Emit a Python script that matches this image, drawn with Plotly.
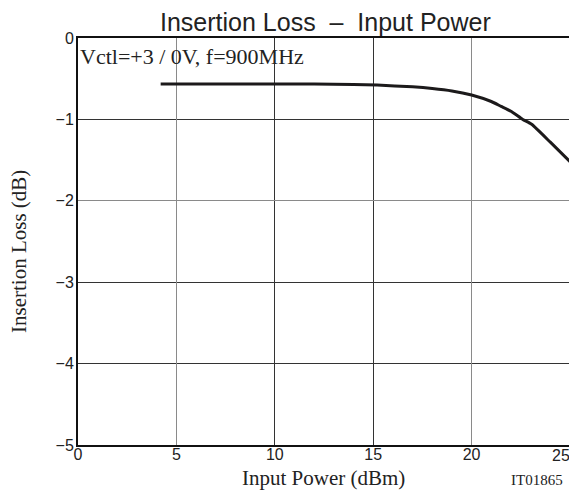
import plotly.graph_objects as go

input_power = [4.2, 8, 12, 14, 15.2, 17, 18, 19, 20, 21, 21.5, 22, 22.6, 23.05, 24, 25]
insertion_loss = [-0.565, -0.565, -0.565, -0.57, -0.578, -0.6, -0.62, -0.65, -0.70, -0.78, -0.84, -0.9, -1.0, -1.06, -1.28, -1.52]
x_ticks = [0, 5, 10, 15, 20, 25]
x_tick_text = ["0", "5", "10", "15", "20", ""]
x_last_label = "25"
x_dark_grid = [10, 15]
x_light_grid = [5, 20]
y_ticks = [0, -1, -2, -3, -4, -5]
y_tick_text = ["0", "−1", "−2", "−3", "−4", "−5"]
y_dark_grid = [-1, -3, -4]
y_light_grid = [-2]

SERIF = "Liberation Serif, Times New Roman, serif"
SANS = "Liberation Sans, Arial, sans-serif"

# page body has an 8px margin; plot area on page = [78, 570] x [38, 445]
OFF = 8
PL, PR, PT, PB = 78, 570, 38, 445
W, H = 577 - OFF, 500 - OFF

fig = go.Figure()
fig.add_trace(go.Scatter(x=[None], y=[None], xaxis="x2", yaxis="y2", mode="lines",
                         showlegend=False, hoverinfo="skip"))
fig.add_trace(go.Scatter(x=input_power, y=insertion_loss, mode="lines",
                         line=dict(color="#1c1a1b", width=3, shape="spline", smoothing=0.5),
                         showlegend=False, hoverinfo="skip"))

fig.update_layout(
    width=W, height=H,
    margin=dict(l=PL - OFF, r=W - (PR - OFF), t=PT - OFF, b=H - (PB - OFF), autoexpand=False),
    paper_bgcolor="white", plot_bgcolor="white",
    font=dict(family=SANS, color="#222"),
    xaxis=dict(range=[0, 25], tickvals=x_ticks, ticktext=x_tick_text,
               showgrid=False,
               minor=dict(tickvals=x_dark_grid, showgrid=True, gridcolor="#333", gridwidth=1, ticks=""),
               showline=True, linecolor="#111", linewidth=2, mirror=True,
               ticks="", tickfont=dict(size=16, family=SANS), automargin=False,
               ticklabelstandoff=-6, zeroline=False),
    yaxis=dict(range=[-5, 0], tickvals=y_ticks, ticktext=y_tick_text,
               showgrid=False,
               minor=dict(tickvals=y_dark_grid, showgrid=True, gridcolor="#333", gridwidth=1, ticks=""),
               showline=True, linecolor="#111", linewidth=2, mirror=True,
               ticks="", tickfont=dict(size=16, family=SANS), automargin=False,
               ticklabelstandoff=-1, zeroline=False),
    xaxis2=dict(overlaying="x", anchor="y", range=[0, 25], tickvals=x_light_grid, showticklabels=False,
                showgrid=True, gridcolor="#8a8a8a", gridwidth=1, zeroline=False, ticks="",
                showline=False, automargin=False),
    yaxis2=dict(overlaying="y", anchor="x", range=[-5, 0], tickvals=y_light_grid, showticklabels=False,
                showgrid=True, gridcolor="#8a8a8a", gridwidth=1, zeroline=False, ticks="",
                showline=False, automargin=False),
)

PW, PH = PR - PL, PB - PT

fig.add_annotation(text=x_last_label, xref="paper", yref="paper", x=1, y=0, xshift=2, yshift=-10,
                   xanchor="right", yanchor="middle", showarrow=False,
                   font=dict(family=SANS, size=16, color="#222"))
fig.add_annotation(text="Insertion Loss\u00a0\u00a0–\u00a0\u00a0Input Power", xref="paper", yref="paper",
                   x=(325 - PL) / PW, y=1, yshift=PT - 22, xanchor="center", yanchor="middle",
                   showarrow=False, font=dict(family=SANS, size=25, color="#222"))
fig.add_annotation(text="Insertion Loss (dB)", xref="paper", yref="paper",
                   x=0, xshift=19 - PL, y=(PB - 252) / PH, xanchor="center", yanchor="middle",
                   textangle=-90, showarrow=False,
                   font=dict(family=SERIF, size=21, color="#222"))
fig.add_annotation(text="Input Power (dBm)", xref="paper", yref="paper",
                   x=(323 - PL) / PW, y=0, yshift=-(478 - PB),
                   xanchor="center", yanchor="middle", showarrow=False,
                   font=dict(family=SERIF, size=21, color="#222"))
fig.add_annotation(text="Vctl=+3 / 0V, f=900MHz", xref="paper", yref="paper",
                   x=0.0, y=1.0, xanchor="left", yanchor="top", xshift=0, yshift=-4,
                   showarrow=False,
                   font=dict(family=SERIF, size=22, color="#222"))
fig.add_annotation(text="IT01865", xref="paper", yref="paper",
                   x=(537 - PL) / PW, y=0, xanchor="center", yanchor="middle", yshift=-(480 - PB),
                   showarrow=False,
                   font=dict(family=SERIF, size=15, color="#222"))

fig.write_html("out.html")
